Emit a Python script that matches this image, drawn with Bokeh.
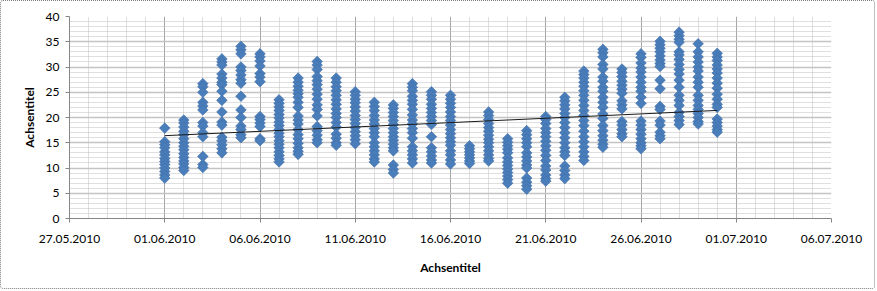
import numpy as np
import pandas as pd
from bokeh.plotting import figure
from bokeh.models import FixedTicker, SingleIntervalTicker, Range1d
from bokeh.embed import file_html
from bokeh.resources import INLINE

# ---- data ----
day_labels = [f"{d:02d}.06.2010" for d in range(1, 31)]
tick_labels = ["27.05.2010", "01.06.2010", "06.06.2010", "11.06.2010", "16.06.2010",
               "21.06.2010", "26.06.2010", "01.07.2010", "06.07.2010"]

day_values = [
    [17.9, 15.2, 14.6, 14.0, 13.2, 12.6, 11.9, 11.3, 10.7, 10.0, 9.3, 8.6, 8.0],
    [19.5, 18.9, 18.1, 17.3, 16.6, 15.8, 15.0, 14.3, 13.6, 12.8, 12.1, 11.4, 10.8, 10.1, 9.5],
    [26.7, 26.1, 25.0, 23.0, 22.3, 21.5, 19.0, 18.3, 17.0, 16.2, 12.3, 10.7, 10.1],
    [31.6, 31.0, 30.4, 28.6, 27.8, 27.0, 26.5, 25.2, 23.4, 21.1, 19.1, 18.5, 16.1, 15.4, 14.6, 13.8, 13.0],
    [34.1, 33.4, 32.6, 30.0, 29.3, 28.4, 27.5, 26.8, 24.2, 21.5, 20.0, 18.3, 17.6, 16.6, 16.0],
    [32.6, 32.0, 31.2, 30.2, 28.7, 28.0, 27.1, 20.2, 19.6, 18.9, 18.2, 15.8, 15.4],
    [23.5, 22.8, 22.1, 21.4, 20.6, 19.9, 19.1, 18.4, 17.6, 16.9, 16.2, 15.4, 14.7, 14.0, 13.2, 12.5, 11.8, 11.2],
    [27.8, 27.0, 26.2, 25.4, 24.7, 24.0, 23.0, 22.0, 20.3, 19.5, 18.7, 17.6, 16.6, 15.8, 14.9, 14.0, 13.3, 12.7],
    [31.1, 30.4, 29.5, 28.1, 27.3, 26.5, 25.6, 24.6, 23.6, 22.5, 21.6, 20.3, 18.2, 17.4, 16.5, 15.6, 15.0],
    [27.8, 27.0, 26.1, 25.3, 24.4, 23.5, 22.6, 21.7, 20.8, 20.0, 19.0, 18.1, 16.7, 15.9, 15.0, 14.5],
    [25.1, 24.4, 23.6, 22.9, 22.1, 21.3, 20.4, 19.6, 18.8, 18.0, 17.2, 16.4, 15.6, 14.8],
    [23.0, 22.2, 21.4, 20.4, 19.5, 18.7, 17.8, 17.0, 16.2, 15.0, 14.2, 13.4, 12.6, 11.8, 11.2],
    [22.5, 21.8, 21.0, 20.2, 19.4, 18.6, 17.8, 17.0, 16.2, 15.5, 14.7, 14.0, 13.4, 10.6, 9.7, 9.0],
    [26.7, 26.0, 25.3, 24.2, 23.4, 22.6, 21.6, 20.5, 19.5, 18.7, 17.8, 17.0, 15.9, 14.2, 13.4, 12.6, 11.8, 11.0],
    [25.1, 24.4, 23.6, 22.6, 21.8, 21.0, 20.2, 19.4, 18.6, 16.2, 14.0, 13.2, 12.4, 11.6, 11.0],
    [24.4, 23.6, 22.8, 22.0, 21.1, 20.2, 19.4, 18.5, 17.6, 16.8, 16.0, 15.2, 14.5, 13.4, 12.6, 11.6, 10.8],
    [14.4, 13.8, 13.2, 12.6, 12.0, 11.4, 10.9],
    [21.1, 20.4, 19.6, 18.8, 18.0, 17.3, 16.5, 15.7, 15.0, 14.2, 13.4, 12.6, 11.9, 11.4],
    [15.8, 15.1, 14.4, 13.7, 13.0, 12.0, 11.2, 10.5, 9.8, 9.1, 8.4, 7.7, 7.0],
    [17.4, 16.6, 15.8, 15.0, 14.2, 13.0, 12.2, 11.4, 10.6, 10.0, 8.0, 7.2, 6.5, 5.8],
    [20.2, 19.6, 18.8, 17.8, 17.0, 16.2, 15.3, 14.4, 13.5, 12.5, 11.5, 10.4, 9.6, 8.6, 7.9, 7.4],
    [24.0, 23.3, 22.5, 21.7, 20.8, 20.0, 19.0, 18.0, 17.0, 16.0, 15.0, 14.0, 13.2, 12.5, 10.4, 9.5, 8.6, 7.9],
    [29.2, 28.5, 27.8, 27.0, 26.2, 25.3, 24.4, 23.4, 22.4, 21.4, 20.4, 19.4, 18.4, 17.3, 16.2, 15.2, 14.2, 13.2, 12.3, 11.5],
    [33.5, 32.8, 32.0, 30.5, 29.6, 28.0, 27.2, 26.0, 25.2, 24.0, 23.0, 22.0, 20.7, 19.8, 18.4, 17.4, 16.4, 15.5, 14.7, 14.1],
    [29.6, 28.9, 28.1, 27.2, 26.4, 25.6, 24.8, 23.3, 22.5, 21.7, 19.2, 18.5, 17.6, 16.8, 16.2],
    [32.6, 31.9, 30.8, 29.8, 29.0, 28.0, 27.0, 26.0, 25.2, 24.0, 22.8, 19.3, 18.5, 17.6, 16.7, 15.8, 15.0, 14.4, 13.8],
    [35.1, 34.4, 33.7, 33.0, 32.2, 31.4, 30.7, 30.1, 27.4, 25.7, 22.2, 21.6, 19.3, 18.5, 17.1, 16.4, 15.8],
    [36.9, 36.2, 35.5, 34.9, 33.0, 32.4, 31.5, 30.5, 29.5, 28.6, 27.4, 26.0, 24.4, 23.4, 22.4, 21.0, 20.2, 19.4, 18.6],
    [34.6, 33.0, 32.0, 31.0, 30.0, 29.2, 28.0, 27.0, 26.0, 24.4, 23.4, 22.4, 21.6, 20.8, 20.0, 19.2, 18.7],
    [32.7, 32.0, 31.3, 30.4, 29.6, 28.8, 27.8, 26.8, 25.8, 24.6, 23.6, 22.6, 22.0, 19.7, 19.0, 18.3, 17.6, 17.1],
]

# linear trend line (start / end of data span)
trend_dates = ["01.06.2010", "30.06.2010"]
trend_values = [16.4, 21.4]

# ---- build ----
def to_ms(s):
    return pd.to_datetime(s, format="%d.%m.%Y").value / 1e6

xs, ys = [], []
for lab, vals in zip(day_labels, day_values):
    t = to_ms(lab)
    xs.extend([t] * len(vals))
    ys.extend(vals)

tx = [to_ms(s) for s in trend_dates]

major_x = [to_ms(s) for s in tick_labels]
minor_x = list(np.arange(major_x[0], major_x[-1] + 1, 86400000.0))

W, H = 875, 289
p = figure(width=W, height=H, output_backend="svg", toolbar_location=None,
           x_range=Range1d(major_x[0], major_x[-1]), y_range=Range1d(0, 40),
           min_border_left=68, min_border_right=45, min_border_top=15, min_border_bottom=72)
p.styles = {"border": "1px dotted #7f7f7f", "border-radius": "3px"}
p.outline_line_color = None
p.background_fill_color = "white"
p.border_fill_color = "white"

p.xaxis.ticker = FixedTicker(ticks=major_x, minor_ticks=minor_x)
p.yaxis.ticker = SingleIntervalTicker(interval=5, num_minor_ticks=5)
p.xaxis.major_label_overrides = {int(m): l for m, l in zip(major_x, tick_labels)}

for g in (p.xgrid, p.ygrid):
    g.minor_grid_line_color = "#BFBFBF"
    g.minor_grid_line_dash = "1 1"
    g.minor_grid_line_width = 1
p.xgrid.grid_line_color = "#A6A6A6"
p.xgrid.grid_line_width = 1
p.ygrid.grid_line_color = "#C4C4C4"
p.ygrid.grid_line_width = 1.5

for ax in (p.xaxis, p.yaxis):
    ax.axis_line_color = "#868686"
    ax.major_tick_line_color = "#868686"
    ax.major_tick_out = 4
    ax.major_tick_in = 0
    ax.minor_tick_out = 0
    ax.minor_tick_in = 0
    ax.major_label_text_font = "Lato"
    ax.major_label_text_font_size = "12px"
    ax.major_label_text_color = "#000000"
    ax.axis_label = "Achsentitel"
    ax.axis_label_text_font = "Lato"
    ax.axis_label_text_font_size = "12px"
    ax.axis_label_text_font_style = "bold"
    ax.axis_label_text_color = "#000000"

p.xaxis.major_label_standoff = 12
p.xaxis.axis_label_standoff = 14
p.yaxis.major_label_standoff = 6
p.yaxis.axis_label_standoff = 6

p.scatter(xs, ys, marker="square", angle=np.pi / 4, size=7.5,
          fill_color="#4A7EBB", line_color="#3C6AA5", line_width=0.6)
p.line(tx, trend_values, line_color="#1a1a1a", line_width=1)

open("out.html", "w").write(file_html(p, INLINE))
